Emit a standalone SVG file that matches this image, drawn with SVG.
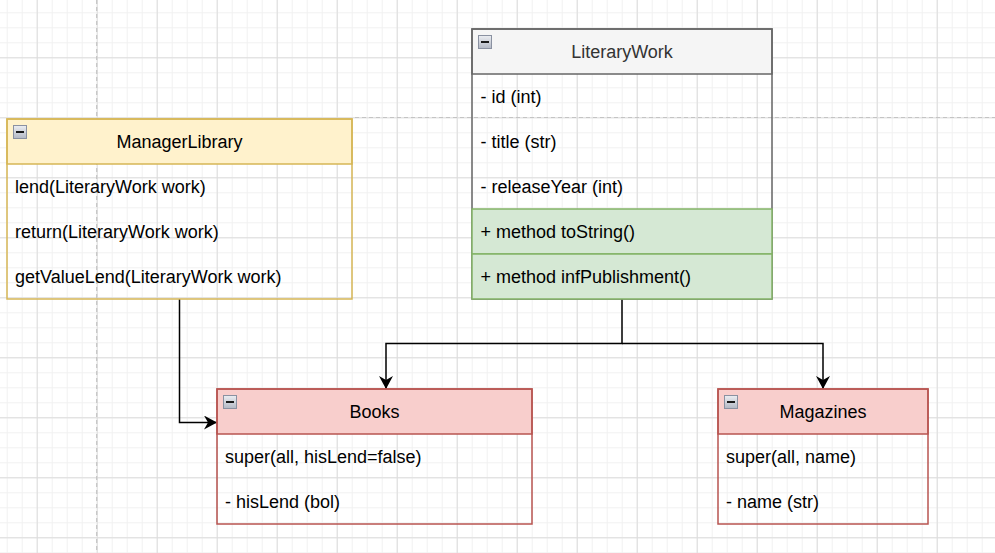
<svg xmlns="http://www.w3.org/2000/svg" xmlns:xlink="http://www.w3.org/1999/xlink" width="995" height="553" viewBox="0 0 995 553">
  <style>
    .t { font-family: "Liberation Sans", Arial, Helvetica, sans-serif; font-size: 18px; fill: #000000; }
    .title { text-anchor: middle; }
    .grey { fill: #333333; }
    .conn { fill: none; stroke: #000000; stroke-width: 1.5; }
    .pagebreak { fill: none; stroke: #c4c4c4; stroke-width: 1.2; stroke-dasharray: 4 3; }
  </style>
  <defs>
    <pattern id="minor" patternUnits="userSpaceOnUse" x="6.7" y="12.3" width="15" height="15">
      <path d="M0.5 0 V15 M0 0.5 H15" fill="none" stroke="#f1f1f1" stroke-width="1"/>
    </pattern>
    <pattern id="major" patternUnits="userSpaceOnUse" x="36.7" y="57.3" width="60" height="60">
      <path d="M0.5 0 V60 M0 0.5 H60" fill="none" stroke="#dcdcdc" stroke-width="1"/>
    </pattern>
    <linearGradient id="iconGrad" x1="0" y1="0" x2="0" y2="1">
      <stop offset="0" stop-color="#eceef2"/>
      <stop offset="1" stop-color="#b3b8c4"/>
    </linearGradient>
    <g id="collapse">
      <rect x="0" y="0" width="13" height="13" fill="url(#iconGrad)" stroke="#8a91a1" stroke-width="1"/>
      <line x1="2.5" y1="6.5" x2="10.5" y2="6.5" stroke="#1a1a1a" stroke-width="2"/>
    </g>
    <marker id="arrow" markerUnits="userSpaceOnUse" markerWidth="15" markerHeight="15" refX="13" refY="7" orient="auto" viewBox="0 0 15 15">
      <path d="M0,0 L13,7 L0,14 L4,7 Z" fill="#000000"/>
    </marker>
  </defs>

  <!-- background grid -->
  <rect x="0" y="0" width="995" height="553" fill="#ffffff"/>
  <rect x="0" y="0" width="995" height="553" fill="url(#minor)"/>
  <rect x="0" y="0" width="995" height="553" fill="url(#major)"/>
  <line class="pagebreak" x1="96.7" y1="0" x2="96.7" y2="553"/>
  <line class="pagebreak" x1="355" y1="117.5" x2="995" y2="117.5"/>

  <!-- connectors -->
  <g id="connectors">
    <path class="conn" d="M179.5 299 V422.5 H217" marker-end="url(#arrow)"/>
    <path class="conn" d="M622 299 V343.5 H386 V389" marker-end="url(#arrow)"/>
    <path class="conn" d="M622 343.5 H823 V389" marker-end="url(#arrow)"/>
  </g>

  <!-- ManagerLibrary -->
  <g id="ManagerLibrary">
    <rect x="7" y="119" width="345" height="45" fill="#fff2cc" stroke="#d6b656" stroke-width="1.5"/>
    <rect x="7" y="119" width="345" height="180" fill="none" stroke="#d6b656" stroke-width="1.5"/>
    <use xlink:href="#collapse" x="13.5" y="125.5"/>
    <text class="t title" x="179.5" y="147.5">ManagerLibrary</text>
    <text class="t" x="15" y="192.5">lend(LiteraryWork work)</text>
    <text class="t" x="15" y="237.5">return(LiteraryWork work)</text>
    <text class="t" x="15" y="282.5">getValueLend(LiteraryWork work)</text>
  </g>

  <!-- LiteraryWork -->
  <g id="LiteraryWork">
    <rect x="472" y="29" width="300" height="45" fill="#f5f5f5" stroke="#666666" stroke-width="1.5"/>
    <rect x="472" y="29" width="300" height="270" fill="none" stroke="#666666" stroke-width="1.5"/>
    <rect x="472" y="209" width="300" height="45" fill="#d5e8d4" stroke="#82b366" stroke-width="1.5"/>
    <rect x="472" y="254" width="300" height="45" fill="#d5e8d4" stroke="#82b366" stroke-width="1.5"/>
    <use xlink:href="#collapse" x="478.5" y="35.5"/>
    <text class="t title grey" x="622" y="57.5">LiteraryWork</text>
    <text class="t" x="480.5" y="102.5">- id (int)</text>
    <text class="t" x="480.5" y="147.5">- title (str)</text>
    <text class="t" x="480.5" y="192.5">- releaseYear (int)</text>
    <text class="t" x="480.5" y="237.5">+ method toString()</text>
    <text class="t" x="480.5" y="282.5">+ method infPublishment()</text>
  </g>

  <!-- Books -->
  <g id="Books">
    <rect x="217" y="389" width="315" height="45" fill="#f8cecc" stroke="#b85450" stroke-width="1.5"/>
    <rect x="217" y="389" width="315" height="135" fill="none" stroke="#b85450" stroke-width="1.5"/>
    <use xlink:href="#collapse" x="223.5" y="395.5"/>
    <text class="t title" x="374.5" y="417.5">Books</text>
    <text class="t" x="225" y="462.5">super(all, hisLend=false)</text>
    <text class="t" x="225" y="507.5">- hisLend (bol)</text>
  </g>

  <!-- Magazines -->
  <g id="Magazines">
    <rect x="718" y="389" width="210" height="45" fill="#f8cecc" stroke="#b85450" stroke-width="1.5"/>
    <rect x="718" y="389" width="210" height="135" fill="none" stroke="#b85450" stroke-width="1.5"/>
    <use xlink:href="#collapse" x="724.5" y="395.5"/>
    <text class="t title" x="823" y="417.5">Magazines</text>
    <text class="t" x="726" y="462.5">super(all, name)</text>
    <text class="t" x="726" y="507.5">- name (str)</text>
  </g>
</svg>
